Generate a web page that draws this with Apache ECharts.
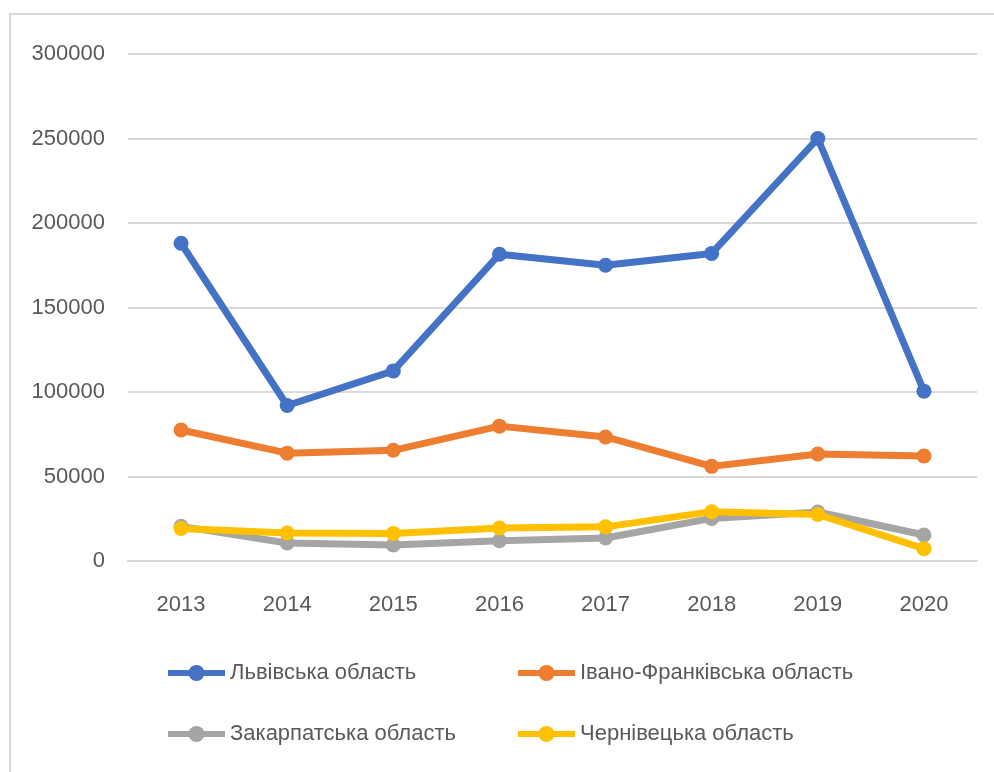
<!DOCTYPE html>
<html>
<head>
<meta charset="utf-8">
<script src="https://cdn.jsdelivr.net/npm/echarts@6/dist/echarts.min.js"></script>
<style>
  html, body { margin: 0; padding: 0; background: #fff; }
  #chart { width: 994px; height: 772px; }
</style>
</head>
<body>
<div id="chart"></div>
<script>
const years = ['2013', '2014', '2015', '2016', '2017', '2018', '2019', '2020']
const lviv = [188000, 92000, 112500, 181500, 175000, 182000, 250000, 100500]
const ivanoFrankivsk = [77500, 63800, 65500, 79800, 73400, 56000, 63300, 62100]
const zakarpattia = [20500, 10700, 9500, 12000, 13600, 25200, 29000, 15400]
const chernivtsi = [19200, 16600, 16300, 19500, 20200, 29200, 27500, 7300]

const font = '"Liberation Sans", Arial, sans-serif'
const textColor = '#595959'

const chart = echarts.init(document.getElementById('chart'))

function line(name, data, color) {
    return {
        name: name,
        type: 'line',
        data: data,
        symbol: 'circle',
        symbolSize: 15,
        lineStyle: { color: color, width: 7 },
        itemStyle: { color: color },
        emphasis: { disabled: true }
    }
}

function legendAt(name, left, top) {
    return {
        data: [name],
        left: left,
        top: top,
        padding: 0,
        itemWidth: 57,
        itemHeight: 20,
        lineStyle: { width: 6 },
        textStyle: { fontFamily: font, fontSize: 22, color: textColor }
    }
}

const option = {
    animation: false,
    backgroundColor: '#fff',
    grid: { left: 128, right: 17, top: 54, bottom: 211 },
    legend: [
        legendAt('Львівська область', 165, 662),
        legendAt('Івано-Франківська область', 515, 662),
        legendAt('Закарпатська область', 165, 723),
        legendAt('Чернівецька область', 515, 723)
    ],
    xAxis: {
        type: 'category',
        data: years,
        axisLine: { lineStyle: { color: '#d9d9d9', width: 2 } },
        axisTick: { show: false },
        axisLabel: { fontFamily: font, fontSize: 22, color: textColor, margin: 33 }
    },
    yAxis: {
        type: 'value',
        min: 0,
        max: 300000,
        interval: 50000,
        axisLine: { show: false },
        axisTick: { show: false },
        splitLine: { lineStyle: { color: '#d9d9d9', width: 2 } },
        axisLabel: { fontFamily: font, fontSize: 22, color: textColor, margin: 23, formatter: v => String(v) }
    },
    graphic: [{
        type: 'rect',
        shape: { x: 10, y: 14, width: 1200, height: 1000 },
        style: { fill: 'none', stroke: '#d9d9d9', lineWidth: 2 },
        silent: true
    }],
    series: [
        line('Львівська область', lviv, '#4472c4'),
        line('Івано-Франківська область', ivanoFrankivsk, '#ed7d31'),
        line('Закарпатська область', zakarpattia, '#a5a5a5'),
        line('Чернівецька область', chernivtsi, '#ffc000')
    ]
}

chart.setOption(option)
</script>
</body>
</html>
